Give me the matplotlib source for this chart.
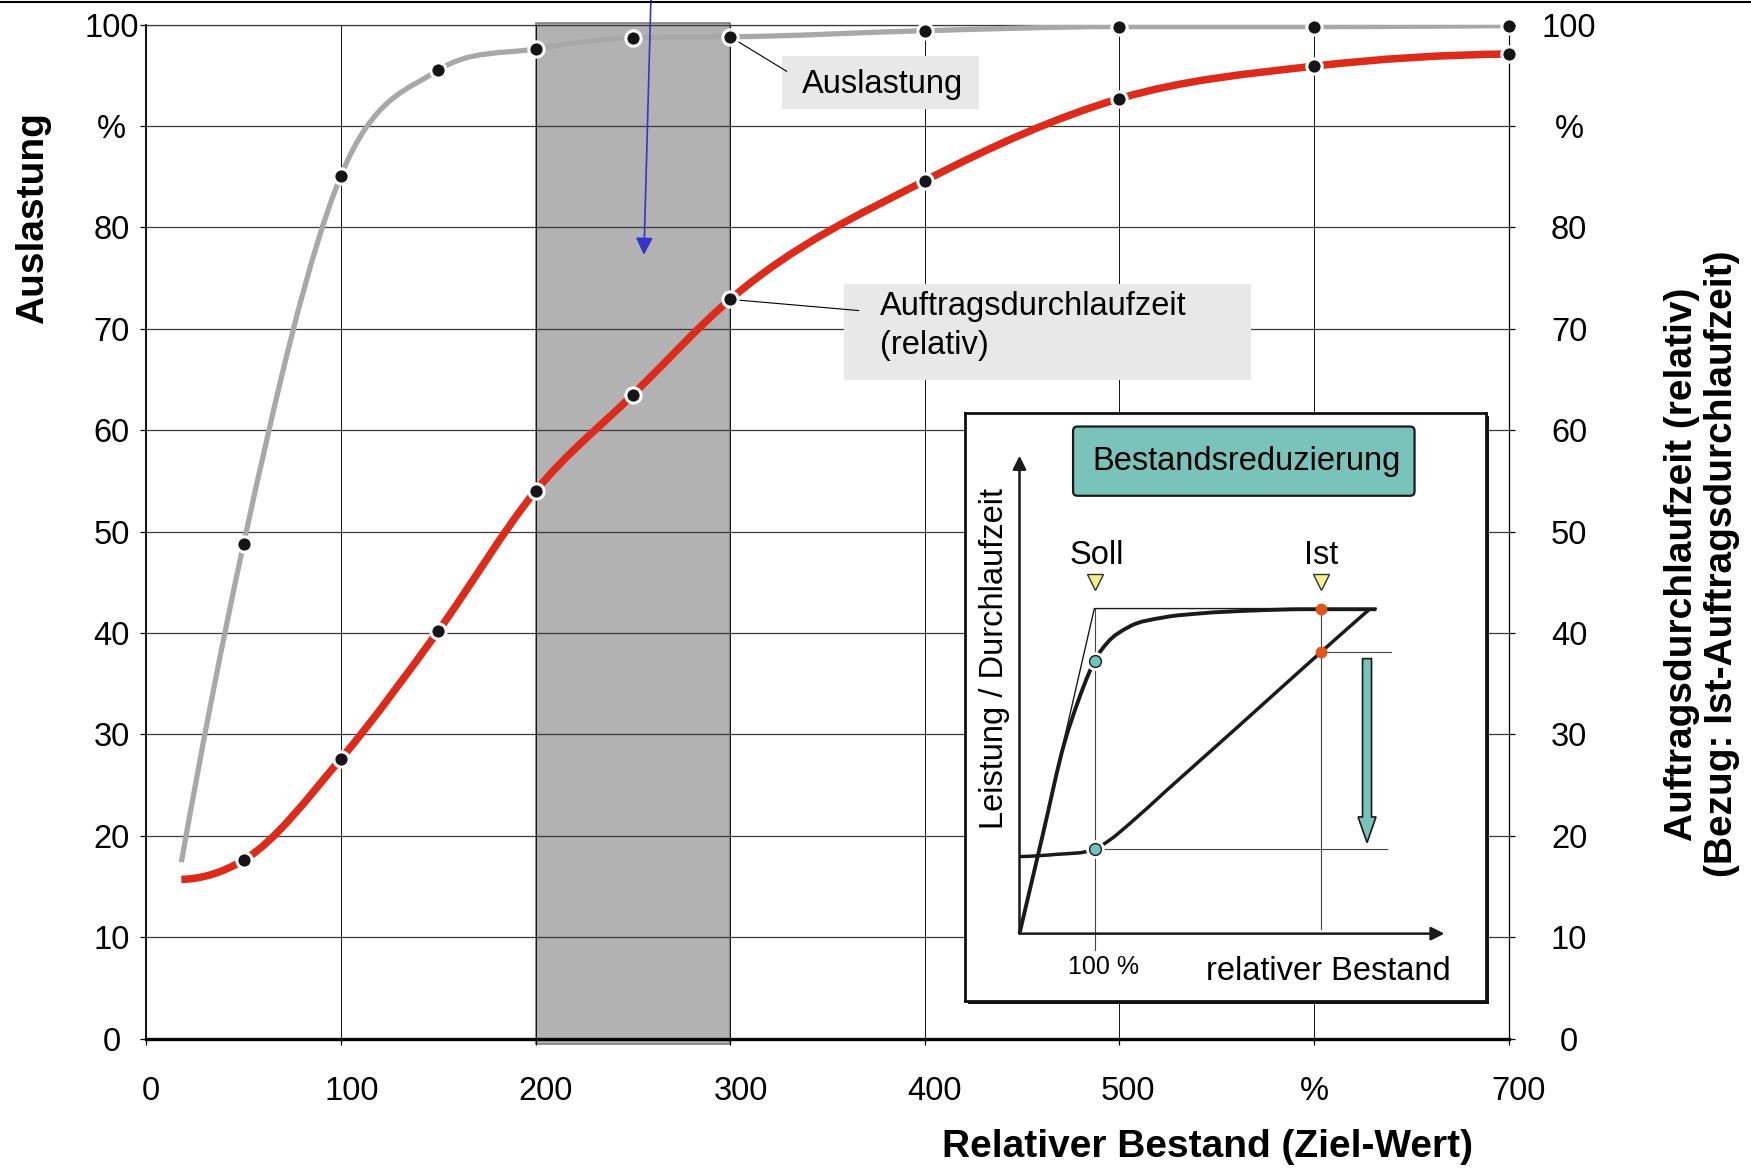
import numpy as np
import matplotlib
matplotlib.use("Agg")
import matplotlib.pyplot as plt
from matplotlib.path import Path
from matplotlib.patches import PathPatch, Rectangle, FancyBboxPatch, FancyArrow
from matplotlib.lines import Line2D
import matplotlib.transforms as mtransforms

plt.rcParams['font.family'] = ['Liberation Sans', 'DejaVu Sans']

# ---------------- data (main chart) ----------------
bestand = [18, 50, 100, 150, 200, 250, 300, 400, 500, 600, 700]
auslastung = [17.4, 48.8, 85.1, 95.5, 97.6, 98.7, 98.8, 99.4, 99.8, 99.8, 99.9]
durchlaufzeit = [15.7, 17.6, 27.6, 40.2, 54.0, 63.5, 72.9, 84.6, 92.7, 95.9, 97.1]

x_ticks = [0, 100, 200, 300, 400, 500, 600, 700]
x_ticklabels = ['0', '100', '200', '300', '400', '500', '%', '700']
y_ticks = [0, 10, 20, 30, 40, 50, 60, 70, 80, 90, 100]
y_ticklabels = ['0', '10', '20', '30', '40', '50', '60', '70', '80', '%', '100']

band_range = [200, 300]
label_point = 300  # Bestand value the two callouts point to

# ---------------- data (inset schematic) ----------------
inset_leistung_x = [0, 31.1, 59.7, 78.8, 93.1, 100.3, 117, 145.7, 193.4, 241, 312.7, 384, 477]
inset_leistung_y = [0, 30.4, 58.4, 71.8, 80.3, 83.9, 89.4, 94.3, 97.3, 98.5, 99.4, 99.8, 99.8]
inset_dlz_x = [0, 50, 100.3, 121.8, 145.6, 193.4, 241, 288.8, 336.6, 403.4, 467.8]
inset_dlz_y = [23.7, 24.4, 26.0, 29.0, 33.5, 43.4, 53.2, 63.0, 72.9, 86.7, 99.8]
ideal_x = [0, 100, 477]
ideal_y = [0, 100, 100]
soll_x = 100.3
ist_x = 403.4
soll_vals = [83.9, 26.0]
ist_vals = [100.0, 86.7]


def smooth_path(x, y):
    """Smooth cubic path through the given points (drawn as Bezier segments)."""
    x = np.asarray(x, float)
    y = np.asarray(y, float)
    h = np.diff(x)
    d = np.diff(y) / h
    n = len(x)
    m = np.zeros(n)
    for k in range(1, n - 1):
        if d[k - 1] * d[k] <= 0:
            m[k] = 0
        else:
            m[k] = (h[k] * d[k - 1] + h[k - 1] * d[k]) / (h[k - 1] + h[k])

    def end(h0, h1, d0, d1):
        v = ((2 * h0 + h1) * d0 - h0 * d1) / (h0 + h1)
        if np.sign(v) != np.sign(d0):
            v = 0
        elif np.sign(d0) != np.sign(d1) and abs(v) > abs(3 * d0):
            v = 3 * d0
        return v
    m[0] = end(h[0], h[1], d[0], d[1])
    m[-1] = end(h[-1], h[-2], d[-1], d[-2])
    # Fritsch-Carlson limiter against overshoot
    for k in range(n - 1):
        if d[k] == 0:
            m[k] = m[k + 1] = 0
            continue
        a, b = m[k] / d[k], m[k + 1] / d[k]
        s = a * a + b * b
        if s > 9:
            t = 3 / np.sqrt(s)
            m[k], m[k + 1] = t * a * d[k], t * b * d[k]
    verts = [(x[0], y[0])]
    codes = [Path.MOVETO]
    for k in range(n - 1):
        verts += [(x[k] + h[k] / 3, y[k] + m[k] * h[k] / 3),
                  (x[k + 1] - h[k] / 3, y[k + 1] - m[k + 1] * h[k] / 3),
                  (x[k + 1], y[k + 1])]
        codes += [Path.CURVE4] * 3
    return Path(verts, codes)


W, H = 1751, 1170
fig = plt.figure(figsize=(W / 100, H / 100), dpi=100)
fig.patch.set_facecolor('white')

ax = fig.add_axes([146.3 / W, 131.4 / H, 1362.3 / W, 1014 / H])
ax.set_xlim(0, 700)
ax.set_ylim(0, 100)
ax.set_axisbelow(False)

# grid
ax.set_xticks(x_ticks)
ax.set_xticklabels(x_ticklabels)
ax.set_yticks(y_ticks)
ax.set_yticklabels(y_ticklabels, ha='center')
ax.grid(True, axis='y', color='#3a3a3a', lw=0.9)
ax.grid(True, axis='x', color='#111111', lw=0.7)
ax.tick_params(axis='x', direction='out', length=4, width=0.9, pad=23, labelsize=23.5)
ax.tick_params(axis='y', direction='out', length=4, width=0.9, pad=21, labelsize=23.5)

offs_pt = [3, 8, 7, 8, 7, 6, 0, 7]
for lbl, off in zip(ax.get_xticklabels(), offs_pt):
    lbl.set_transform(lbl.get_transform() +
                      mtransforms.ScaledTranslation(off / 72, 0, fig.dpi_scale_trans))

for side, lw, col in [('left', 1.3, 'black'), ('bottom', 2.4, 'black'),
                      ('right', 0.9, 'black'), ('top', 0.9, '#3a3a3a')]:
    ax.spines[side].set_linewidth(lw)
    ax.spines[side].set_color(col)

ax2 = ax.twinx()
ax2.set_ylim(0, 100)
ax2.set_yticks(y_ticks)
ax2.set_yticklabels(y_ticklabels, ha='center')
ax2.tick_params(axis='y', direction='out', length=4, width=0.9, pad=39.5, labelsize=23.5)
for s in ax2.spines.values():
    s.set_visible(False)

# shaded band
ax.add_patch(Rectangle((band_range[0], -0.5), band_range[1] - band_range[0], 100.7,
                       fc='#b2b2b2', ec='#7f7f7f', lw=1.2, zorder=1, clip_on=False))

# curves
ax.add_patch(PathPatch(smooth_path(bestand, auslastung), fc='none', ec='#a8a8a8',
                       lw=3.8, zorder=4, capstyle='butt'))
ax.add_patch(PathPatch(smooth_path(bestand, durchlaufzeit), fc='none', ec='#dc2b1a',
                       lw=5.4, zorder=4, capstyle='butt'))
ax.plot(bestand[1:], auslastung[1:], ls='none', marker='o', ms=11, mfc='#151515',
        mec='white', mew=2.2, zorder=6, clip_on=False)
ax.plot(bestand[1:], durchlaufzeit[1:], ls='none', marker='o', ms=11, mfc='#151515',
        mec='white', mew=2.2, zorder=6, clip_on=False)

# callout boxes
i_lp = bestand.index(label_point)
ax.add_patch(Rectangle((326.6, 91.7), 101.1, 5.2, fc='#e8e8e8', ec='none', zorder=3))
ax.text(337, 93.3, 'Auslastung', fontsize=23.5, ha='left', va='baseline', zorder=7)
ax.plot([label_point, 329], [auslastung[i_lp], 95.4], color='black', lw=0.8, zorder=5)

ax.add_patch(Rectangle((358.4, 65.0), 209.3, 9.4, fc='#e8e8e8', ec='none', zorder=3))
ax.text(377.2, 71.4, 'Auftragsdurchlaufzeit', fontsize=23.5, ha='left', va='baseline', zorder=7)
ax.text(377.2, 67.5, '(relativ)', fontsize=23.5, ha='left', va='baseline', zorder=7)
ax.plot([label_point, 366], [durchlaufzeit[i_lp], 71.8], color='black', lw=0.8, zorder=5)

# blue arrow
ax.annotate('', xy=(255.7, 77.3), xytext=(259.5, 104),
            arrowprops=dict(arrowstyle='-|>', color='#3535c8', lw=1.2,
                            mutation_scale=26, shrinkA=0, shrinkB=0),
            annotation_clip=False, zorder=8)

# top rule of the figure
fig.add_artist(Line2D([0, 1], [1 - 2 / H, 1 - 2 / H], color='black', lw=1.5,
                      transform=fig.transFigure))

# axis labels
fig.text(33.5 / W, 1 - 217.8 / H, 'Auslastung', rotation=90, fontsize=28,
         fontweight='bold', ha='center', va='center')
fig.text(1208 / W, 1 - 1147 / H, 'Relativer Bestand (Ziel-Wert)', fontsize=28,
         fontweight='bold', ha='center', va='center')
fig.text(1702 / W, 1 - 564 / H,
         'Auftragsdurchlaufzeit (relativ)\n(Bezug: Ist-Auftragsdurchlaufzeit)',
         rotation=90, fontsize=28, fontweight='bold', ha='center', va='center',
         multialignment='center', linespacing=1.15)

# ---------------- inset ----------------
il, ib, iw, ih = 964.8 / W, 1 - 1000.6 / H, 521.5 / W, 587.4 / H
fig.add_artist(Rectangle((il + 3 / W, ib - 3 / H), iw, ih, transform=fig.transFigure,
                         fc='#111111', ec='none', zorder=4))
axi = fig.add_axes([il, ib, iw, ih], zorder=5)
axi.set_xlim(-73.1, 623.9)
axi.set_ylim(-20.6, 160.1)
axi.set_xticks([])
axi.set_yticks([])
axi.set_facecolor('white')
for s in axi.spines.values():
    s.set_linewidth(2)
    s.set_color('#111111')

dark = '#1a1a1a'
teal = '#79c3bb'

axi.add_patch(FancyBboxPatch((71.6, 134.7), 456.4, 21.3,
                             boxstyle='round,pad=0,rounding_size=6',
                             mutation_aspect=0.23, fc=teal, ec=dark, lw=1.6, zorder=3))
axi.text(303, 142.6, 'Bestandsreduzierung', fontsize=23.5, ha='center', va='baseline', zorder=4)

# reference lines
axi.plot([soll_x, soll_x], [100, -5], color='#444444', lw=0.8, zorder=2)
axi.plot([ist_x, ist_x], [100, 1.5], color='#444444', lw=0.8, zorder=2)
axi.plot([ist_x, 496.5], [ist_vals[1], ist_vals[1]], color='#444444', lw=0.8, zorder=2)
axi.plot([soll_x, 491.7], [soll_vals[1], soll_vals[1]], color='#444444', lw=0.8, zorder=2)

# ideal line and curves
axi.plot(ideal_x, ideal_y, color=dark, lw=1.0, zorder=3)
axi.add_patch(PathPatch(smooth_path(inset_leistung_x, inset_leistung_y), fc='none',
                        ec=dark, lw=2.8, zorder=4))
axi.add_patch(PathPatch(smooth_path(inset_dlz_x, inset_dlz_y), fc='none',
                        ec=dark, lw=2.5, zorder=4))

# axes arrows
axi.annotate('', xy=(0, 147), xytext=(0, 0),
             arrowprops=dict(arrowstyle='-|>', color=dark, lw=1.8, mutation_scale=20,
                             shrinkA=0, shrinkB=0), zorder=5)
axi.annotate('', xy=(568, 0), xytext=(0, 0),
             arrowprops=dict(arrowstyle='-|>', color=dark, lw=1.8, mutation_scale=20,
                             shrinkA=0, shrinkB=0), zorder=5)

# markers
axi.plot([soll_x] * 2, soll_vals, ls='none', marker='o', ms=12.5, mfc='white', mec='white', zorder=6)
axi.plot([soll_x] * 2, soll_vals, ls='none', marker='o', ms=8.5, mfc='#6fc3b9',
         mec=dark, mew=1, zorder=7)
axi.plot([ist_x] * 2, ist_vals, ls='none', marker='o', ms=8.5, mfc='#e0561a',
         mec='none', zorder=7)
axi.plot([soll_x, ist_x], [108.3, 108.3], ls='none', marker='v', ms=12,
         mfc='#f4ef8f', mec='#333333', mew=1, zorder=7)
axi.text(102.7, 113.7, 'Soll', fontsize=23.5, ha='center', va='baseline', zorder=7)
axi.text(ist_x, 113.7, 'Ist', fontsize=23.5, ha='center', va='baseline', zorder=7)

# reduction arrow
axi.add_patch(FancyArrow(464.5, 84.6, 0, -56.6, width=12, head_width=24,
                         head_length=7.9, length_includes_head=True,
                         fc=teal, ec=dark, lw=1.2, zorder=6))

axi.text(-34, 84.5, 'Leistung / Durchlaufzeit', rotation=90, fontsize=23.5,
         ha='center', va='center', zorder=7)
axi.text(112, -12.4, '100 %', fontsize=18, ha='center', va='baseline', zorder=7)
axi.text(413, -14.4, 'relativer Bestand', fontsize=23.5, ha='center', va='baseline', zorder=7)

fig.savefig('out.png', dpi=100, facecolor='white')
